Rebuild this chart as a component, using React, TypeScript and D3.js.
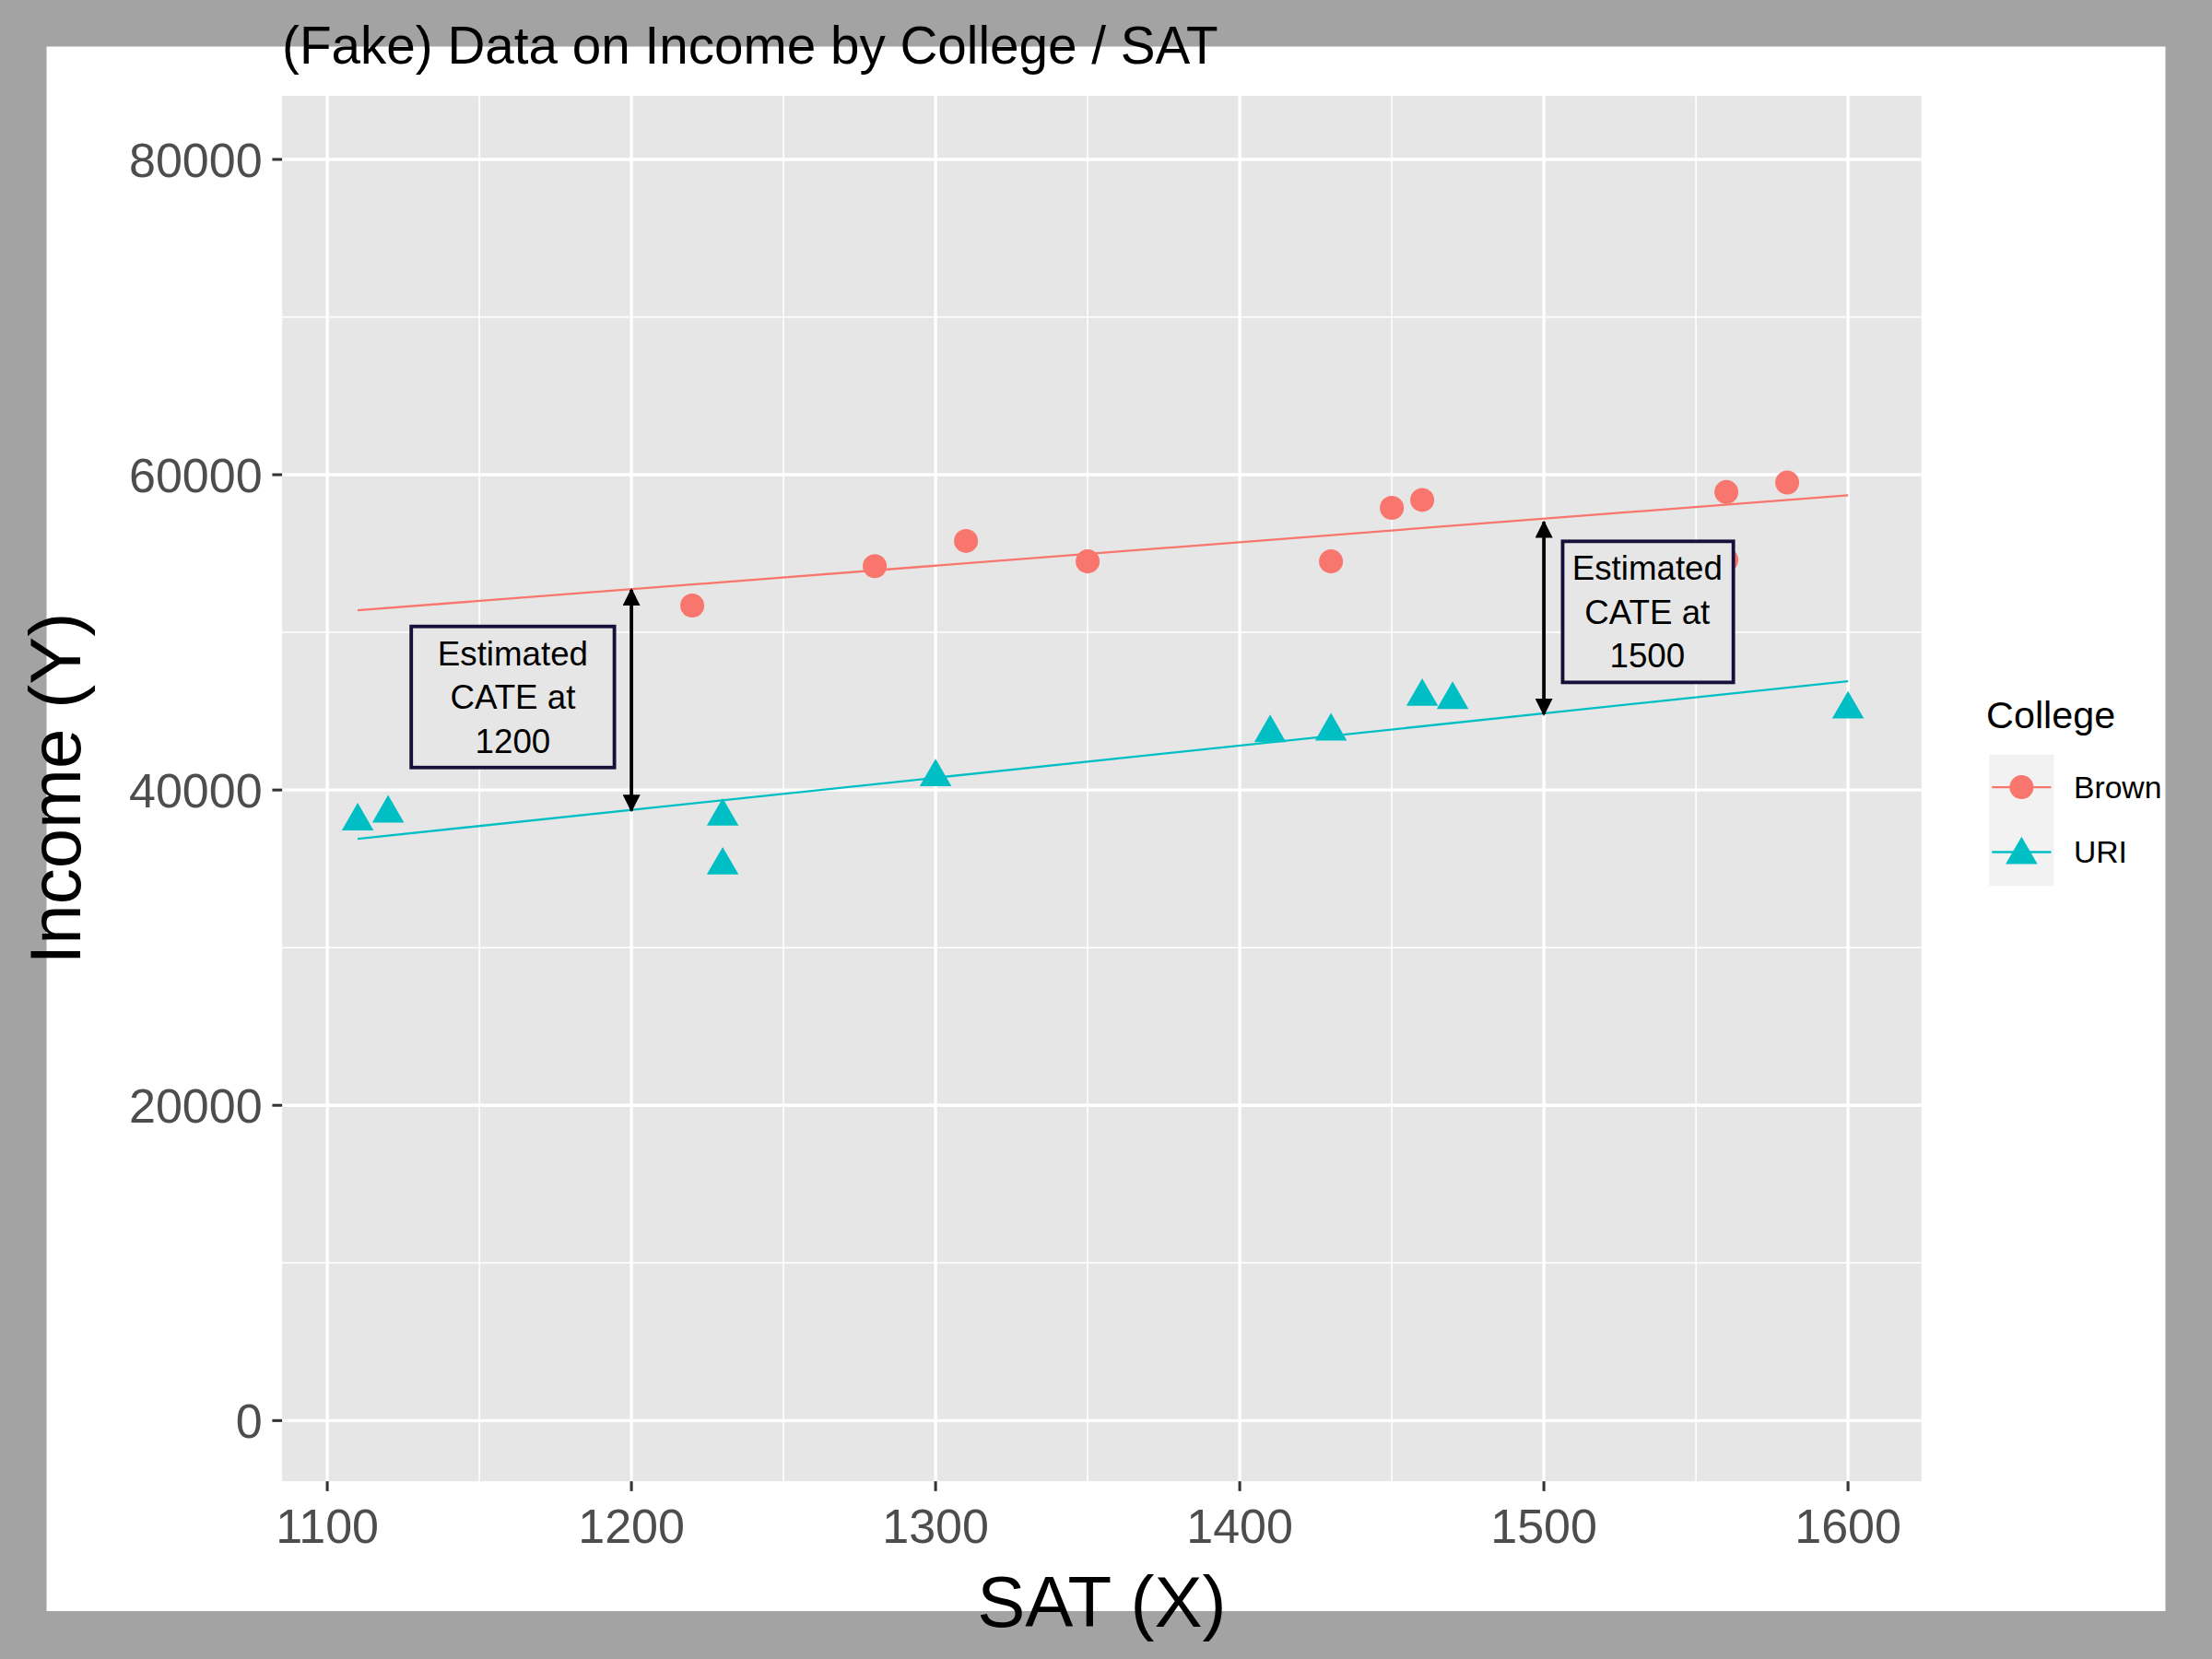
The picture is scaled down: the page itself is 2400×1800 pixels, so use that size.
import * as d3 from "d3";

const brownSat = [1220, 1280, 1310, 1350, 1430, 1450, 1460, 1560, 1560, 1580];
const brownIncome = [51700, 54200, 55800, 54500, 54500, 57900, 58400, 58900, 54600, 59500];
const uriSat = [1110, 1120, 1230, 1230, 1300, 1410, 1430, 1460, 1470, 1600];
const uriIncome = [38200, 38700, 38500, 35400, 41000, 43800, 43900, 46100, 45900, 45300];
const fitSat = [1110, 1600];
const brownFit = [51400, 58700];
const uriFit = [36900, 46900];
const xTicks = [1100, 1200, 1300, 1400, 1500, 1600];
const yTicks = [0, 20000, 40000, 60000, 80000];
const cates = [
  { sat: 1200, top: 52700, bottom: 38700, boxSat: 1161, boxY: 45900 },
  { sat: 1500, top: 57000, bottom: 44800, boxSat: 1534, boxY: 51300 },
];

const RED = "#F8766D";
const TEAL = "#00BFC4";
const FONT = "Liberation Sans, Arial, sans-serif";

export default function App() {
  const x = d3.scaleLinear().domain([1100, 1600]).range([232, 1310]);
  const y = d3.scaleLinear().domain([0, 80000]).range([1007, 113]);
  const P = { l: 200, r: 1362, t: 68, b: 1050 };
  const minorX = d3.range(1150, 1651, 100);
  const minorY = d3.range(10000, 80001, 20000);
  const tri = d3.symbol().type(d3.symbolTriangle).size(220)() || "";
  const line = d3.line<number>().x((_, i) => x(fitSat[i]));

  return (
    <svg width={2400} height={1800} viewBox="0 0 1568 1176"
      style={{ position: "absolute", left: 0, top: 0 }} fontFamily={FONT}>
      <defs>
        <marker id="ah" viewBox="0 0 10 10" refX="9" refY="5" markerWidth="5" markerHeight="5" orient="auto-start-reverse">
          <path d="M0,0L10,5L0,10z" fill="#000" />
        </marker>
      </defs>
      <rect width={1568} height={1176} fill="#a3a3a3" />
      <rect x={33} y={33} width={1502} height={1109} fill="#fff" />
      <rect x={P.l} y={P.t} width={P.r - P.l} height={P.b - P.t} fill="#e6e6e6" />
      {minorX.map((v) => <line key={"mx" + v} x1={x(v)} x2={x(v)} y1={P.t} y2={P.b} stroke="#fff" strokeWidth={1} />)}
      {minorY.map((v) => <line key={"my" + v} y1={y(v)} y2={y(v)} x1={P.l} x2={P.r} stroke="#fff" strokeWidth={1} />)}
      {xTicks.map((v) => <line key={"gx" + v} x1={x(v)} x2={x(v)} y1={P.t} y2={P.b} stroke="#fff" strokeWidth={2.2} />)}
      {yTicks.map((v) => <line key={"gy" + v} y1={y(v)} y2={y(v)} x1={P.l} x2={P.r} stroke="#fff" strokeWidth={2.2} />)}

      <path d={line.y((d) => y(d))(brownFit) || ""} stroke={RED} strokeWidth={1.5} fill="none" />
      <path d={line.y((d) => y(d))(uriFit) || ""} stroke={TEAL} strokeWidth={1.5} fill="none" />

      {brownSat.map((s, i) => <circle key={"b" + i} cx={x(s)} cy={y(brownIncome[i])} r={8.5} fill={RED} />)}
      {uriSat.map((s, i) => <path key={"u" + i} d={tri} transform={`translate(${x(s)},${y(uriIncome[i]) + 2})`} fill={TEAL} />)}

      {cates.map((c, i) => (
        <g key={"c" + i}>
          <line x1={x(c.sat)} x2={x(c.sat)} y1={y(c.bottom)} y2={y(c.top)} stroke="#000" strokeWidth={2.5}
            markerStart="url(#ah)" markerEnd="url(#ah)" />
          <g transform={`translate(${x(c.boxSat)},${y(c.boxY)})`}>
            <rect x={i === 0 ? -72 : -60} y={-50} width={i === 0 ? 144 : 121} height={100} fill="#e6e6e6" stroke="#14103a" strokeWidth={2.5} />
            {["Estimated", "CATE at", String(c.sat)].map((t, j) => (
              <text key={j} y={-31 + j * 31} dy="0.35em" textAnchor="middle" fontSize={24} fill="#000">{t}</text>
            ))}
          </g>
        </g>
      ))}

      {xTicks.map((v) => (
        <g key={"tx" + v}>
          <line x1={x(v)} x2={x(v)} y1={P.b} y2={P.b + 7} stroke="#333" strokeWidth={2} />
          <text x={x(v)} y={1094} textAnchor="middle" fontSize={34} fill="#4d4d4d">{v}</text>
        </g>
      ))}
      {yTicks.map((v) => (
        <g key={"ty" + v}>
          <line x1={P.l - 7} x2={P.l} y1={y(v)} y2={y(v)} stroke="#333" strokeWidth={2} />
          <text x={186} y={y(v)} dy="0.36em" textAnchor="end" fontSize={34} fill="#4d4d4d">{v}</text>
        </g>
      ))}

      <text x={200} y={45} fontSize={37} fill="#000">(Fake) Data on Income by College / SAT</text>
      <text x={781} y={1153} textAnchor="middle" fontSize={51} fill="#000">SAT (X)</text>
      <text transform="translate(57,559) rotate(-90)" textAnchor="middle" fontSize={51} fill="#000">Income (Y)</text>

      <text x={1408} y={516} fontSize={27} fill="#000">College</text>
      <rect x={1410} y={535} width={46} height={93} fill="#f2f2f2" />
      <line x1={1412} x2={1454} y1={558} y2={558} stroke={RED} strokeWidth={1.5} />
      <circle cx={1433} cy={558} r={8.5} fill={RED} />
      <line x1={1412} x2={1454} y1={604} y2={604} stroke={TEAL} strokeWidth={1.5} />
      <path d={tri} transform="translate(1433,606)" fill={TEAL} />
      <text x={1470} y={558} dy="0.35em" fontSize={22} fill="#000">Brown</text>
      <text x={1470} y={604} dy="0.35em" fontSize={22} fill="#000">URI</text>
    </svg>
  );
}
